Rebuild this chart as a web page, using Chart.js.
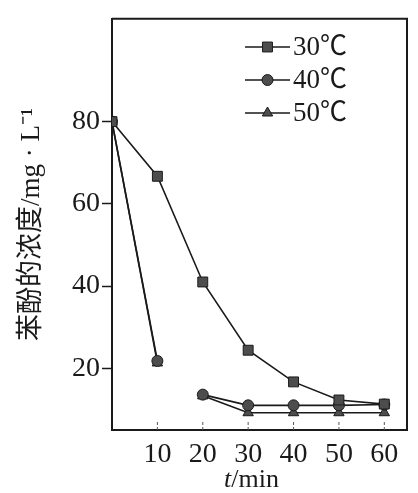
<!DOCTYPE html>
<html>
<head>
<meta charset="utf-8">
<script src="https://cdn.jsdelivr.net/npm/chart.js@4"></script>
<style>
  html, body { margin: 0; padding: 0; background: #fff; }
</style>
</head>
<body>
<canvas id="chart" width="418" height="493"></canvas>
<script>
// Data
const times = [0, 10, 20, 30, 40, 50, 60];
const conc30 = [80, 66.7, 41, 24.4, 16.7, 12.3, 11.3];
const conc40 = [80, 21.8, 13.6, 11.0, 11.0, 11.0, 11.2];
const conc50 = [80, 21.3, 13.3, 9.2, 9.2, 9.2, 9.2];
const seriesLabels = ['30℃', '40℃', '50℃'];
const xTicks = [10, 20, 30, 40, 50, 60];
const yTicks = [20, 40, 60, 80];
const xTitleVar = 't';
const xTitleUnit = '/min';

const serif = "'Liberation Serif', 'Noto Sans CJK SC', serif";
const ink = '#1a1a1a';
const markFill = '#4d4d4d';

const toPoints = vals => times.map((t, i) => ({ x: t, y: vals[i] }));

// the 40/50 curves show no visible segment between 10 and 20 min
const hideGap = { borderColor: c => (c.p0DataIndex === 1 ? 'rgba(0,0,0,0)' : undefined) };

function series(label, vals, style, radius, extra) {
  return Object.assign({
    label,
    data: toPoints(vals),
    borderColor: ink,
    borderWidth: 1.6,
    pointStyle: style,
    pointRadius: radius,
    pointBackgroundColor: markFill,
    pointBorderColor: ink,
    pointBorderWidth: 1,
    tension: 0,
    fill: false,
  }, extra || {});
}

// Frame: top and right edges of the plot box
const frame = {
  id: 'frame',
  afterDraw(chart) {
    const { ctx, chartArea: a } = chart;
    ctx.save();
    ctx.strokeStyle = ink;
    ctx.lineWidth = 2;
    ctx.beginPath();
    ctx.moveTo(a.left, a.top);
    ctx.lineTo(a.right, a.top);
    ctx.lineTo(a.right, a.bottom);
    ctx.stroke();
    ctx.restore();
  },
};

// Short inward tick marks on the time axis
const innerTicks = {
  id: 'innerTicks',
  afterDatasetsDraw(chart) {
    const { ctx, chartArea: a, scales } = chart;
    ctx.save();
    ctx.strokeStyle = '#555';
    ctx.lineWidth = 1;
    ctx.setLineDash([3, 2]);
    xTicks.forEach(v => {
      const x = scales.x.getPixelForValue(v);
      ctx.beginPath();
      ctx.moveTo(x, a.bottom);
      ctx.lineTo(x, a.bottom - 9);
      ctx.stroke();
    });
    ctx.restore();
  },
};

// x title with italic variable name
const xTitle = {
  id: 'xTitle',
  afterDraw(chart) {
    const { ctx, chartArea: a } = chart;
    const cx = (a.left + a.right) / 2 - 8;
    const y = 480;
    ctx.save();
    ctx.fillStyle = ink;
    ctx.textBaseline = 'middle';
    ctx.font = 'italic 26px ' + serif;
    const wVar = ctx.measureText(xTitleVar).width;
    ctx.font = '26px ' + serif;
    const wUnit = ctx.measureText(xTitleUnit).width;
    const start = cx - (wVar + wUnit) / 2;
    ctx.textAlign = 'left';
    ctx.font = 'italic 26px ' + serif;
    ctx.fillText(xTitleVar, start, y);
    ctx.font = '26px ' + serif;
    ctx.fillText(xTitleUnit, start + wVar, y);
    ctx.restore();
  },
};

// Legend drawn inside the plot, line sample + marker
const innerLegend = {
  id: 'innerLegend',
  afterDraw(chart) {
    const { ctx } = chart;
    const x0 = 245, x1 = 290, top = 47, gap = 33;
    ctx.save();
    chart.data.datasets.forEach((ds, i) => {
      const y = top + i * gap;
      ctx.strokeStyle = ink;
      ctx.lineWidth = 1.6;
      ctx.setLineDash([]);
      ctx.beginPath();
      ctx.moveTo(x0, y);
      ctx.lineTo(x1, y);
      ctx.stroke();
      ctx.fillStyle = markFill;
      ctx.strokeStyle = ink;
      ctx.lineWidth = 1;
      Chart.helpers.drawPoint(ctx, {
        pointStyle: ds.pointStyle, radius: ds.pointRadius, rotation: 0, borderWidth: 1,
      }, (x0 + x1) / 2, y);
      ctx.fillStyle = ink;
      ctx.font = '27px ' + serif;
      ctx.textAlign = 'left';
      ctx.textBaseline = 'middle';
      ctx.fillText(ds.label, x1 + 3, y + 1);
    });
    ctx.restore();
  },
};

new Chart(document.getElementById('chart'), {
  type: 'line',
  data: {
    datasets: [
      series(seriesLabels[0], conc30, 'rect', 7),
      series(seriesLabels[1], conc40, 'circle', 5.5, { segment: hideGap }),
      series(seriesLabels[2], conc50, 'triangle', 6, { segment: hideGap }),
    ],
  },
  options: {
    responsive: false,
    animation: false,
    devicePixelRatio: 1,
    layout: { padding: { top: 17, right: 11, left: 0, bottom: 0 } },
    plugins: {
      legend: { display: false },
      tooltip: { enabled: false },
    },
    scales: {
      x: {
        type: 'linear',
        min: 0,
        max: 65,
        afterBuildTicks: s => { s.ticks = xTicks.map(v => ({ value: v })); },
        afterFit: s => { s.height = 63; },
        grid: { display: false, drawTicks: false },
        border: { display: true, color: ink, width: 2 },
        ticks: { color: ink, padding: 8, font: { family: serif, size: 28 } },
        title: { display: false },
      },
      y: {
        min: 5,
        max: 105,
        afterBuildTicks: s => { s.ticks = yTicks.map(v => ({ value: v })); },
        afterFit: s => { s.width = 112; },
        grid: { drawOnChartArea: false, drawTicks: true, tickLength: 10, color: ink, tickWidth: 1.5 },
        border: { display: true, color: ink, width: 2 },
        ticks: { color: ink, padding: 2, font: { family: serif, size: 28 } },
        title: {
          display: true,
          text: '苯酚的浓度/mg · L⁻¹',
          color: ink,
          font: { family: serif, size: 27 },
          padding: { top: 16, bottom: 0 },
        },
      },
    },
  },
  plugins: [frame, innerTicks, xTitle, innerLegend],
});
</script>
</body>
</html>
